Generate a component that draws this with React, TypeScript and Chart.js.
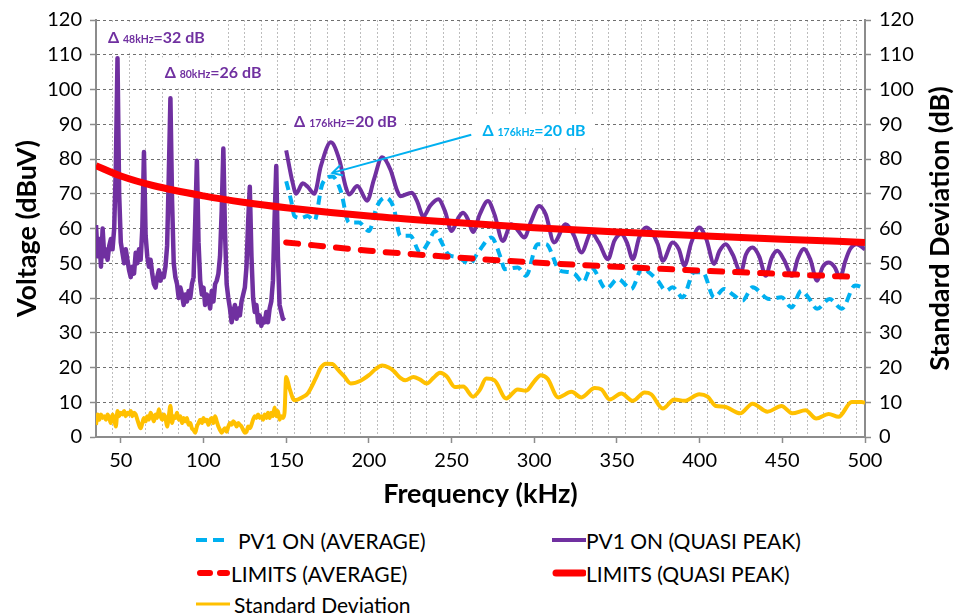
import React, { useEffect, useRef } from 'react';
import { Chart, registerables } from 'chart.js';

Chart.register(...registerables);

const FONT = "Lato, 'DejaVu Sans', sans-serif";
const PURPLE = '#7030A0';
const CYAN = '#00B0F0';
const RED = '#FF0000';
const YELLOW = '#FFC000';

// ---------- axes ----------
const X_MIN = 35;
const X_MAX = 500;
const X_MAJOR_TICKS = [50, 100, 150, 200, 250, 300, 350, 400, 450, 500];
const X_MINOR_GRID = [45, 55, 65, 75, 85, 95, 105, 115, 125, 135, 145, 155, 165, 175, 185, 195, 205, 215, 225, 235, 245, 255, 265, 275, 285, 295, 305, 315, 325, 335, 345, 355, 365, 375, 385, 395, 405, 415, 425, 435, 445, 455, 465, 475, 485, 495];
const Y_MIN = 0;
const Y_MAX = 120;
const Y_STEP = 10;

// ---------- data ----------
// PV1 ON (QUASI PEAK) below 150 kHz, one value per kHz starting at 35 kHz
const PV1_QP_LOW_START = 35;
const PV1_QP_LOW = [
  61, 52, 57, 49, 60, 52, 54, 51, 55, 57,
  54, 60, 78, 109, 70, 56, 53, 50, 54, 51,
  48, 46, 49, 47, 53, 50, 54, 51, 60, 82,
  58, 52, 49, 51, 47, 44, 43, 46, 48, 45,
  47, 46, 49, 55, 75, 97.5, 68, 50, 46, 44,
  40, 43, 41, 38, 41, 39, 42, 40, 44, 46,
  62, 79.5, 56, 45, 41, 43, 38, 41, 40, 37,
  42, 39, 44, 45, 47, 52, 65, 83, 59, 44,
  40, 37, 33, 36, 38, 34, 37, 35, 39, 41,
  43, 49, 62, 72, 52, 40, 36, 38, 33, 35,
  32, 34, 33, 36, 33, 37, 39, 45, 63, 78,
  52, 38, 36, 34, 34.5,
];

// PV1 ON (QUASI PEAK) 150-500 kHz [kHz, dBuV]
const PV1_QP: [number, number][] = [
  [150, 82.5], [154, 73], [156, 70], [160, 73], [163, 72], [167, 70], [171, 78], [177, 84.8], [182, 80], [186, 72],
  [188, 69.8], [193, 72.2], [199, 68], [203, 74], [208, 80.5], [213, 77], [217, 71], [219, 69.3], [226, 70.3], [229, 68],
  [233, 63.5], [237, 66.5], [242, 68.4], [246, 65], [250, 59.3], [254, 63], [257, 64.5], [260, 62.5], [263, 59], [267, 64],
  [272, 67.9], [276, 64], [281, 56.4], [286, 61.2], [290, 59.5], [294, 57.4], [298, 62], [303, 66.5], [307, 64], [312, 56],
  [319, 61.2], [324, 58], [328.5, 53.1], [334.5, 58.8], [339, 56], [344.6, 51.2], [348.5, 56.5], [352.6, 58.4], [356, 56], [359.6, 51.2],
  [363.5, 57.5], [367.6, 60.3], [371, 59], [374.7, 55.5], [377.7, 50.7], [383.7, 56], [387.5, 54], [390.8, 49.3], [395, 56], [399.8, 60.3],
  [404, 57], [408.8, 49.8], [412, 53.5], [415.8, 55.5], [420, 52.5], [424.9, 47.4], [428, 52.5], [432, 54.5], [436, 52], [440, 46.4],
  [443.5, 51.5], [447, 53.6], [451, 51], [456, 46.4], [459.5, 51.5], [463, 54.1], [467, 51], [471, 45], [474.5, 49], [478, 50.2],
  [481.5, 49], [485, 45.9], [488, 50.5], [491, 54.1], [495, 55.5], [500, 54],
];

// PV1 ON (AVERAGE) [kHz, dBuV]
const PV1_AVG: [number, number][] = [
  [150, 73.6], [153, 68], [155, 63.6], [159, 63], [163, 63.6], [167, 62.2], [171.8, 72.7], [178, 75], [183, 70.8], [188, 61.7],
  [194, 61.7], [200, 59.3], [205, 66.5], [210, 68.9], [215, 66], [219, 57.9], [225, 57.9], [231, 53.1], [236, 56], [240, 59.3],
  [244, 56], [248, 52.6], [254, 51.7], [261, 49.8], [266, 53.1], [274, 57.4], [280, 51.2], [282, 48.3], [290, 48.8], [295, 46.4],
  [302, 55.5], [307, 55.5], [315.5, 47.9], [320, 47.5], [324.5, 46.9], [329.5, 44.5], [334.5, 48.8], [343.5, 42.6], [350.6, 45.5], [358.6, 42.6],
  [365.6, 48.8], [369, 47.5], [374.7, 45], [379.7, 42.1], [383.7, 43.1], [389.7, 40.2], [396.7, 47.4], [401.8, 47.4], [408.8, 40.2], [414.8, 42.6],
  [420, 41], [426, 39.3], [432, 43.1], [442, 39.7], [449.5, 40.2], [455.5, 37.3], [461.5, 42.1], [466, 40], [471, 36.9], [478.6, 39.7],
  [486, 36.9], [494, 43.6], [498, 43.1], [500, 42.5],
];

// LIMITS (QUASI PEAK) [kHz, dBuV]
const LIMIT_QP: [number, number][] = [
  [35, 78.1], [50, 75.1], [70, 72.3], [100, 69.4], [125, 67.5], [150, 66], [200, 63.6], [250, 61.8], [300, 60.2], [350, 59], [400, 57.9], [450, 56.9], [500, 56],
];

// LIMITS (AVERAGE) [kHz, dBuV]
const LIMIT_AVG: [number, number][] = [
  [150, 56], [200, 53.6], [250, 51.8], [300, 50.2], [350, 49], [400, 47.9], [450, 46.9], [492, 46.1],
];

// Standard Deviation below 150 kHz, one value per kHz starting at 35 kHz
const STD_LOW_START = 35;
const STD_LOW = [
  3.5, 6.5, 5, 6.5, 5.5, 6, 5, 6.5, 5.5, 4,
  6.5, 5, 3, 7.5, 6, 7, 6.5, 7.5, 6, 7,
  6.5, 7.5, 6, 7, 6.5, 5, 3.5, 2.5, 4, 5.5,
  4.5, 6, 5, 7, 6, 4.5, 6.5, 5.5, 8, 6,
  5, 6.5, 5.5, 3, 6, 9, 4, 6, 5.5, 7,
  5, 6, 4, 5.5, 4.5, 5.5, 3.5, 4, 2.5, 2,
  1.2, 3, 4, 5, 4, 5.5, 4.5, 5, 3.5, 5,
  5.5, 4, 6, 4.5, 3, 2, 1.2, 2, 2.5, 1.5,
  3, 4, 3.5, 4.5, 4, 3, 4, 3.5, 3, 2,
  1.2, 1.5, 3, 2.5, 3.5, 5, 6, 5.5, 6.5, 5.5,
  6, 5, 6.5, 5.5, 7, 5.5, 7, 6, 8.5, 6,
  7.5, 5, 6, 5.5, 7,
];

// Standard Deviation 150-500 kHz [kHz, dB]
const STD_HIGH: [number, number][] = [
  [150, 17.3], [152, 14], [155, 10.6], [160, 11.5], [163, 12.5], [168, 17], [171, 20], [174, 21.1], [178, 21], [181, 19.5],
  [185, 17.5], [189, 15.4], [195, 16.2], [200, 17.8], [204, 19.5], [208, 20.6], [212, 20], [215, 19], [219, 17], [222, 16.3],
  [227, 17.3], [231, 16.5], [235, 15.4], [239, 17], [243, 18.5], [247, 17.5], [252, 14.4], [257, 14.5], [263, 11.6], [267, 13.5],
  [271, 16.8], [276, 16.3], [283, 11.1], [290, 13.7], [295, 13.3], [300, 16], [304, 17.8], [308, 16.8], [314.5, 11.4], [322.5, 13],
  [328.5, 11.4], [336.6, 14.1], [340.6, 13.7], [345.6, 10.8], [352.6, 12.5], [359.6, 10.4], [366.7, 12.8], [370.7, 12.3], [377.7, 8.2], [384.7, 10.8],
  [390.8, 10.4], [399.8, 12.3], [404.8, 11.6], [409.9, 8.9], [414.9, 8.7], [424.5, 6.8], [432, 9.6], [441, 7.3], [449.5, 8.9], [456, 6.8],
  [464, 7.7], [470.5, 5.3], [478, 6.6], [484, 5.8], [492, 10.1], [498, 10.1], [500, 9.8],
];

// annotations: [frequency kHz, level dB] of text baseline-left anchor
const ANNOTATIONS = [
  { sub: '48kHz', value: '=32 dB', at: [42.2, 113.4], color: PURPLE },
  { sub: '80kHz', value: '=26 dB', at: [76.5, 103.2], color: PURPLE },
  { sub: '176kHz', value: '=20 dB', at: [154.8, 89.2], color: PURPLE },
  { sub: '176kHz', value: '=20 dB', at: [268.7, 86.6], color: CYAN },
];
const ARROW_FROM: [number, number] = [261.9, 87.0];
const ARROW_TO: [number, number] = [177.9, 76.0];

const LEGEND_ITEMS = [
  { label: 'PV1 ON (AVERAGE)', color: CYAN, width: 4, dash: '11 6', cap: 'butt', col: 0, row: 0, gap: 8 },
  { label: 'PV1 ON (QUASI PEAK)', color: PURPLE, width: 4, dash: '', cap: 'butt', col: 1, row: 0, gap: 0 },
  { label: 'LIMITS (AVERAGE)', color: RED, width: 6, dash: '10 10', cap: 'round', col: 0, row: 1, gap: 1 },
  { label: 'LIMITS (QUASI PEAK)', color: RED, width: 7, dash: '', cap: 'round', col: 1, row: 1, gap: 0 },
  { label: 'Standard Deviation', color: YELLOW, width: 3, dash: '', cap: 'butt', col: 0, row: 2, gap: 4 },
];

const toXY = (pairs: [number, number][]) => pairs.map(([x, y]) => ({ x, y }));
const fromStart = (start: number, vals: number[]) => vals.map((y, i) => ({ x: start + i, y }));

const BIG = 16;
const SMALL = 10.5;

function measure(ctx: CanvasRenderingContext2D, a: any) {
  ctx.font = `bold ${BIG}px ${FONT}`;
  const w1 = ctx.measureText('\u0394 ').width;
  const w3 = ctx.measureText(a.value).width;
  ctx.font = `bold ${SMALL}px ${FONT}`;
  const w2 = ctx.measureText(a.sub).width;
  return { w1, w2, w3, total: w1 + w2 + w3 };
}

const annotationPlugin = {
  id: 'annotationPlugin',
  beforeDatasetsDraw(chart: any) {
    const { ctx, scales } = chart;
    ctx.save();
    for (const a of ANNOTATIONS) {
      const px = scales.x.getPixelForValue(a.at[0]);
      const py = scales.y.getPixelForValue(a.at[1]);
      const m = measure(ctx, a);
      ctx.fillStyle = '#ffffff';
      ctx.fillRect(px - 8, py - 21, m.total + 16, 31);
    }
    ctx.restore();
  },
  afterDatasetsDraw(chart: any) {
    const { ctx, scales } = chart;
    ctx.save();
    const x1 = scales.x.getPixelForValue(ARROW_FROM[0]);
    const y1 = scales.y.getPixelForValue(ARROW_FROM[1]);
    const x2 = scales.x.getPixelForValue(ARROW_TO[0]);
    const y2 = scales.y.getPixelForValue(ARROW_TO[1]);
    ctx.strokeStyle = CYAN;
    ctx.lineWidth = 2;
    ctx.beginPath();
    ctx.moveTo(x1, y1);
    ctx.lineTo(x2, y2);
    const ang = Math.atan2(y1 - y2, x1 - x2);
    const L = 11;
    ctx.moveTo(x2 + L * Math.cos(ang - 0.5), y2 + L * Math.sin(ang - 0.5));
    ctx.lineTo(x2, y2);
    ctx.lineTo(x2 + L * Math.cos(ang + 0.5), y2 + L * Math.sin(ang + 0.5));
    ctx.stroke();
    ctx.textBaseline = 'alphabetic';
    ctx.textAlign = 'left';
    for (const a of ANNOTATIONS) {
      const px = scales.x.getPixelForValue(a.at[0]);
      const py = scales.y.getPixelForValue(a.at[1]);
      const m = measure(ctx, a);
      ctx.fillStyle = a.color;
      ctx.font = `bold ${BIG}px ${FONT}`;
      ctx.fillText('\u0394 ', px, py);
      ctx.font = `bold ${SMALL}px ${FONT}`;
      ctx.fillText(a.sub, px + m.w1, py);
      ctx.font = `bold ${BIG}px ${FONT}`;
      ctx.fillText(a.value, px + m.w1 + m.w2, py);
    }
    ctx.restore();
  },
};

const rightTitlePlugin = {
  id: 'rightTitlePlugin',
  afterDraw(chart: any) {
    const { ctx, chartArea, scales } = chart;
    ctx.save();
    ctx.translate(scales.y2.right - 16, (chartArea.top + chartArea.bottom) / 2);
    ctx.rotate(-Math.PI / 2);
    ctx.font = `bold 27px ${FONT}`;
    ctx.fillStyle = '#000';
    ctx.textAlign = 'center';
    ctx.textBaseline = 'middle';
    ctx.fillText('Standard Deviation (dB)', 0, 0);
    ctx.restore();
  },
};

const AXIS_GREY = '#8c8c8c';
const tickFont = { family: FONT, size: 20 };
const titleFont = { family: FONT, size: 27, weight: 'bold' };

export default function App() {
  const ref = useRef<HTMLCanvasElement>(null);
  useEffect(() => {
    const chart = new Chart(ref.current as HTMLCanvasElement, {
      type: 'line',
      data: {
        datasets: [
          { label: 'LIMITS (QUASI PEAK)', data: toXY(LIMIT_QP), borderColor: RED, borderWidth: 7, order: 0, cubicInterpolationMode: 'monotone', yAxisID: 'y' },
          { label: 'LIMITS (AVERAGE)', data: toXY(LIMIT_AVG), borderColor: RED, borderWidth: 6, borderDash: [12, 13], borderCapStyle: 'round', order: 1, cubicInterpolationMode: 'monotone', yAxisID: 'y' },
          { label: 'PV1 ON (AVERAGE)', data: toXY(PV1_AVG), borderColor: CYAN, borderWidth: 4, borderDash: [9, 6], order: 2, cubicInterpolationMode: 'monotone', yAxisID: 'y' },
          { label: 'PV1 ON (QUASI PEAK)', data: toXY(PV1_QP), borderColor: PURPLE, borderWidth: 4, order: 3, cubicInterpolationMode: 'monotone', yAxisID: 'y' },
          { label: 'PV1 ON (QUASI PEAK) <150kHz', data: fromStart(PV1_QP_LOW_START, PV1_QP_LOW), borderColor: PURPLE, borderWidth: 4.5, order: 3, tension: 0, borderJoinStyle: 'round', yAxisID: 'y' },
          { label: 'Standard Deviation', data: [...fromStart(STD_LOW_START, STD_LOW), ...toXY(STD_HIGH)], borderColor: YELLOW, borderWidth: 4, order: 4, cubicInterpolationMode: 'monotone', borderJoinStyle: 'round', yAxisID: 'y2' },
        ] as any,
      },
      options: {
        animation: false,
        responsive: true,
        maintainAspectRatio: false,
        events: [],
        layout: { padding: { top: 18, left: 0, right: 0, bottom: 0 } },
        elements: { point: { radius: 0 }, line: { fill: false } },
        plugins: { legend: { display: false }, tooltip: { enabled: false } },
        scales: {
          x: {
            type: 'linear',
            min: X_MIN,
            max: X_MAX,
            afterBuildTicks: (s: any) => {
              s.ticks = [...X_MINOR_GRID, ...X_MAJOR_TICKS].sort((a, b) => a - b).map((v) => ({ value: v }));
            },
            afterFit: (s: any) => { s.height = 78; },
            ticks: {
              autoSkip: false,
              maxRotation: 0,
              padding: 6,
              color: '#000',
              font: tickFont,
              callback: (v: any) => (X_MAJOR_TICKS.includes(Number(v)) ? String(v) : ''),
            },
            grid: {
              color: (c: any) => (c.tick && X_MAJOR_TICKS.includes(c.tick.value) ? 'rgba(0,0,0,0)' : '#bdbdbd'),
              tickColor: (c: any) => (c.tick && X_MAJOR_TICKS.includes(c.tick.value) ? AXIS_GREY : 'rgba(0,0,0,0)'),
              lineWidth: 1,
              tickLength: 6,
              tickWidth: 1.5,
            },
            border: { display: true, color: AXIS_GREY, width: 2, dash: [2, 2] },
            title: { display: true, text: 'Frequency (kHz)', color: '#000', font: titleFont, padding: { top: 0, bottom: 5 } },
          },
          y: {
            type: 'linear',
            position: 'left',
            min: Y_MIN,
            max: Y_MAX,
            afterFit: (s: any) => { s.width = 96; },
            ticks: { stepSize: Y_STEP, padding: 8, color: '#000', font: tickFont },
            grid: { color: '#6f6f6f', lineWidth: 1, tickLength: 6, tickColor: AXIS_GREY, tickWidth: 1.5 },
            border: { display: true, color: AXIS_GREY, width: 2, dash: [3, 3] },
            title: { display: true, text: 'Voltage (dBuV)', color: '#000', font: titleFont, padding: { top: 11, bottom: 0 } },
          },
          y2: {
            type: 'linear',
            position: 'right',
            min: Y_MIN,
            max: Y_MAX,
            afterFit: (s: any) => { s.width = 91; },
            ticks: { stepSize: Y_STEP, padding: 8, color: '#000', font: tickFont },
            grid: { drawOnChartArea: false, tickLength: 6, tickColor: AXIS_GREY, tickWidth: 1.5 },
            border: { display: true, color: AXIS_GREY, width: 2 },
          },
        },
      } as any,
      plugins: [annotationPlugin as any, rightTitlePlugin as any],
    });
    return () => chart.destroy();
  }, []);

  const colX = [196, 552];
  const rowY = [540, 573, 604];

  return (
    <div style={{ position: 'absolute', left: 0, top: 0, width: 956, height: 615, background: '#fff', fontFamily: FONT, overflow: 'hidden' }}>
      <div style={{ position: 'absolute', left: 0, top: 0, width: 956, height: 515 }}>
        <canvas ref={ref} />
      </div>
      {LEGEND_ITEMS.map((it) => (
        <div
          key={it.label}
          style={{
            position: 'absolute',
            left: colX[it.col],
            top: rowY[it.row] - 14,
            height: 28,
            display: 'flex',
            alignItems: 'center',
            whiteSpace: 'nowrap',
            fontSize: 21,
            color: '#000',
          }}
        >
          <svg width={34} height={12} style={{ marginRight: it.gap }}>
            <line x1={it.cap === 'round' ? 4 : 0} y1={6} x2={it.cap === 'round' ? 31 : 34} y2={6} stroke={it.color} strokeWidth={it.width} strokeDasharray={it.dash || undefined} strokeLinecap={it.cap as any} />
          </svg>
          <span>{it.label}</span>
        </div>
      ))}
    </div>
  );
}
